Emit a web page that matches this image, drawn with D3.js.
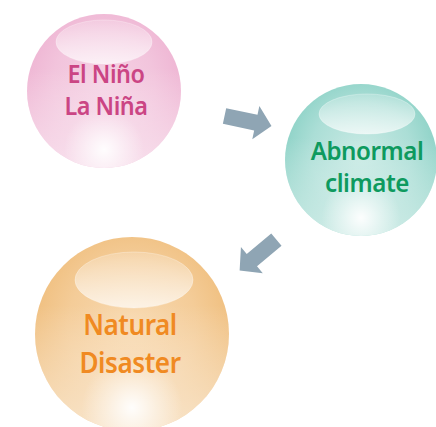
<!DOCTYPE html>
<html><head><meta charset="utf-8">
<script src="https://cdn.jsdelivr.net/npm/d3@7"></script>
<style>html,body{margin:0;padding:0;background:#fff;overflow:hidden}</style>
</head><body>
<svg id="c" width="436" height="427"></svg>
<script>
// Data
const nodeIds = ["nino", "climate", "disaster"];
const nodeLines = [["El Niño", "La Niña"], ["Abnormal", "climate"], ["Natural", "Disaster"]];
const textColors = ["#cb4584", "#0e9a5f", "#f08a22"];
const edgeColors = ["#eeb3d2", "#88d0c4", "#efbd7b"];
const midColors = ["#f5d2e4", "#c8eae4", "#f8d9b0"];
const arrowLinks = [["nino", "climate"], ["climate", "disaster"]];
const arrowColor = "#8fa5b4";

// layout
const cx = [104, 361, 132], cy = [91, 160, 334], rr = [77, 76, 97];
const fontSizes = [26, 26, 29];
const scaleX = [0.9, 0.93, 0.9];
const baseY = [[-8, 24], [0, 32], [1, 39]];
const textX = [2, 6, -2];
const hlY = [-49, -46, -54], hlRx = [48, 48, 59], hlRy = [22, 20, 28], hlX = [0, 6, 2];

const svg = d3.select("#c");
const defs = svg.append("defs");

nodeIds.forEach((id, i) => {
  const g = defs.append("radialGradient").attr("id", "bg-" + id)
    .attr("cx", "50%").attr("cy", "45%").attr("r", "55%");
  g.append("stop").attr("offset", "0").attr("stop-color", midColors[i]);
  g.append("stop").attr("offset", "0.6").attr("stop-color", d3.interpolateRgb(midColors[i], edgeColors[i])(0.45));
  g.append("stop").attr("offset", "1").attr("stop-color", edgeColors[i]);
  const v = defs.append("linearGradient").attr("id", "fade-" + id)
    .attr("x1", 0).attr("y1", 0).attr("x2", 0).attr("y2", 1);
  v.append("stop").attr("offset", "0.35").attr("stop-color", "#fff").attr("stop-opacity", 0);
  v.append("stop").attr("offset", "1").attr("stop-color", "#fff").attr("stop-opacity", 0.6);
  const w = defs.append("radialGradient").attr("id", "glow-" + id)
    .attr("cx", "50%").attr("cy", "88%").attr("r", "26%");
  w.append("stop").attr("offset", "0").attr("stop-color", "#fff").attr("stop-opacity", 0.95);
  w.append("stop").attr("offset", "0.5").attr("stop-color", "#fff").attr("stop-opacity", 0.45);
  w.append("stop").attr("offset", "1").attr("stop-color", "#fff").attr("stop-opacity", 0);
  const h = defs.append("linearGradient").attr("id", "hl-" + id)
    .attr("x1", 0).attr("y1", 0).attr("x2", 0).attr("y2", 1);
  h.append("stop").attr("offset", "0").attr("stop-color", "#fff").attr("stop-opacity", 0.2);
  h.append("stop").attr("offset", "1").attr("stop-color", "#fff").attr("stop-opacity", 0.7);
});

const nodes = svg.selectAll("g.node").data(nodeIds).join("g").attr("class", "node")
  .attr("transform", (d, i) => `translate(${cx[i]},${cy[i]})`);

nodes.append("circle").attr("r", (d, i) => rr[i]).attr("fill", d => `url(#bg-${d})`);
nodes.append("circle").attr("r", (d, i) => rr[i]).attr("fill", d => `url(#fade-${d})`);
nodes.append("circle").attr("r", (d, i) => rr[i]).attr("fill", d => `url(#glow-${d})`);
nodes.append("ellipse")
  .attr("cx", (d, i) => hlX[i])
  .attr("cy", (d, i) => hlY[i])
  .attr("rx", (d, i) => hlRx[i])
  .attr("ry", (d, i) => hlRy[i])
  .attr("fill", d => `url(#hl-${d})`)
  .attr("stroke", "#fff").attr("stroke-opacity", 0.3).attr("stroke-width", 1);

nodes.each(function(d, i) {
  const g = d3.select(this);
  const t = g.append("text").attr("text-anchor", "middle")
    .attr("transform", `translate(${textX[i]},0) scale(${scaleX[i]},1)`)
    .attr("font-family", "'Noto Sans', sans-serif").attr("font-weight", 600)
    .attr("font-size", fontSizes[i]).attr("letter-spacing", -0.5)
    .attr("fill", textColors[i]);
  nodeLines[i].forEach((line, k) => {
    t.append("tspan").attr("x", 0).attr("y", baseY[i][k]).text(line);
  });
});

// arrows: local shape pointing right, then rotated
const arrowShape = [[-24, -8], [8, -8], [8, -17], [24, 0], [8, 17], [8, 8], [-24, 8]];
const arrowPos = [[248, 121, 12], [258, 255, 140]];
svg.selectAll("path.arrow").data(arrowLinks).join("path").attr("class", "arrow")
  .attr("d", d3.line()(arrowShape) + "Z")
  .attr("fill", arrowColor)
  .attr("transform", (d, i) => `translate(${arrowPos[i][0]},${arrowPos[i][1]}) rotate(${arrowPos[i][2]})`);
</script>
</body></html>
